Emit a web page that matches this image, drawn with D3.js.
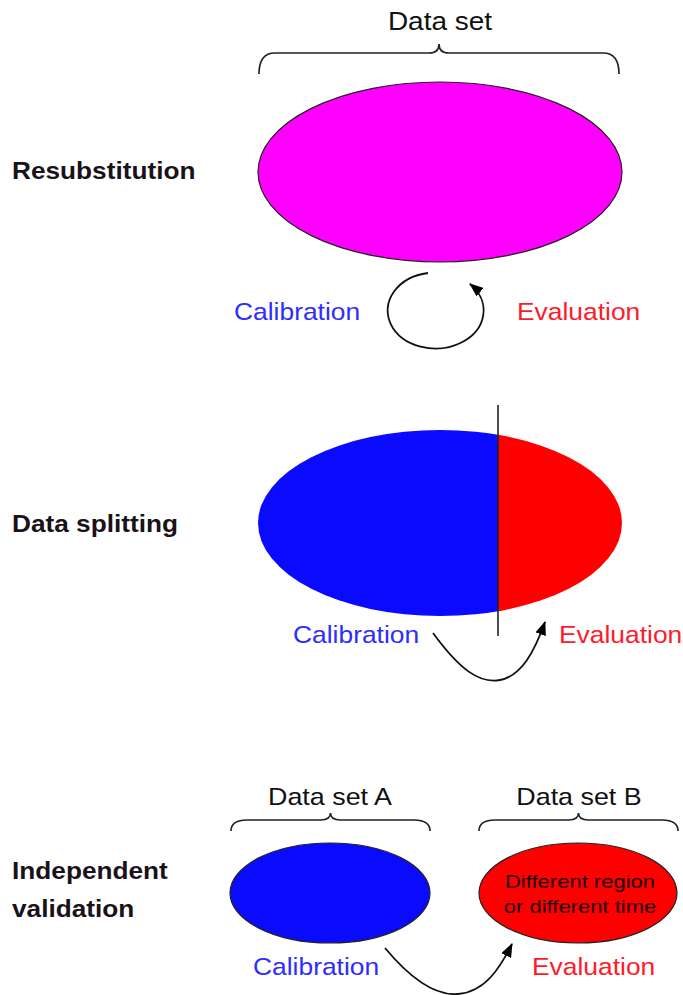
<!DOCTYPE html>
<html>
<head>
<meta charset="utf-8">
<script src="https://cdn.jsdelivr.net/npm/d3@7"></script>
<style>
  body { margin: 0; background: #fff; }
  svg { display: block; font-family: "Liberation Sans", Arial, sans-serif; }
</style>
</head>
<body>
<div id="chart"></div>
<script>
const w = 683;
const h = 995;

// content of the diagram
const methods = [['Resubstitution'], ['Data splitting'], ['Independent', 'validation']];
const setNames = ['Data set', 'Data set A', 'Data set B'];
const roles = ['Calibration', 'Evaluation'];
const innerLines = ['Different region', 'or different time'];

const blue = '#0a0aff', red = '#ff0000', magenta = '#ff00ff';
const blueText = '#2d2dff', redText = '#ff1a2a';

const svg = d3.select('#chart')
  .append('svg')
  .attr('width', w)
  .attr('height', h);

svg.append('defs').append('marker')
  .attr('id', 'head')
  .attr('viewBox', '0 0 14 11')
  .attr('refX', 13).attr('refY', 5.5)
  .attr('markerWidth', 14).attr('markerHeight', 11)
  .attr('markerUnits', 'userSpaceOnUse')
  .attr('orient', 'auto')
  .append('path')
  .attr('d', 'M0,0 L14,5.5 L0,11 Z')
  .attr('fill', '#000');

function label(txt, x, y, opts) {
  return svg.append('text')
    .attr('transform', `translate(${x},${y}) scale(${opts.stretch || 1.1},1)`)
    .attr('text-anchor', opts.anchor || 'start')
    .attr('font-size', opts.size)
    .attr('font-weight', opts.bold ? 'bold' : 'normal')
    .attr('fill', opts.color || '#111')
    .text(txt);
}

function brace(x1, x2, y, drop, peak) {
  const m = (x1 + x2) / 2, r = 16;
  const p = d3.path();
  p.moveTo(x1, y + drop);
  p.quadraticCurveTo(x1, y, x1 + r, y);
  p.lineTo(m - 10, y);
  p.quadraticCurveTo(m, y, m, y - peak);
  p.quadraticCurveTo(m, y, m + 10, y);
  p.lineTo(x2 - r, y);
  p.quadraticCurveTo(x2, y, x2, y + drop);
  svg.append('path').attr('d', p.toString())
    .attr('fill', 'none').attr('stroke', '#222').attr('stroke-width', 1.7);
}

// method labels on the left
const labelY = [179, 532];
const boldOpts = {size: 23, bold: true, color: '#1a121a', stretch: 1.14};
methods.forEach((lines, i) => {
  if (i < 2) label(lines[0], 12, labelY[i], boldOpts);
  else lines.forEach((l, j) => label(l, 12, 879 + j * 38, boldOpts));
});

// ---- Resubstitution ----
label(setNames[0], 440, 30, {size: 25, anchor: 'middle', stretch: 1.12});
brace(259, 619, 53, 21, 9);
svg.append('ellipse')
  .attr('cx', 440).attr('cy', 172).attr('rx', 182).attr('ry', 90)
  .attr('fill', magenta).attr('stroke', '#222').attr('stroke-width', 1.2);
label(roles[0], 234, 320, {size: 24, color: blueText});
label(roles[1], 517, 320, {size: 24, color: redText});
svg.append('path')
  .attr('d', 'M428,273 A48,38 0 1 0 470,284')
  .attr('fill', 'none').attr('stroke', '#111').attr('stroke-width', 1.8)
  .attr('marker-end', 'url(#head)');

// ---- Data splitting ----
const split = 498;
svg.append('clipPath').attr('id', 'leftHalf')
  .append('rect').attr('x', 0).attr('y', 0).attr('width', split).attr('height', h);
svg.append('clipPath').attr('id', 'rightHalf')
  .append('rect').attr('x', split).attr('y', 0).attr('width', w - split).attr('height', h);
svg.append('ellipse')
  .attr('cx', 440).attr('cy', 523).attr('rx', 182).attr('ry', 93)
  .attr('fill', blue).attr('clip-path', 'url(#leftHalf)');
svg.append('ellipse')
  .attr('cx', 440).attr('cy', 523).attr('rx', 182).attr('ry', 93)
  .attr('fill', red).attr('clip-path', 'url(#rightHalf)');
svg.append('line')
  .attr('x1', split).attr('x2', split).attr('y1', 405).attr('y2', 636)
  .attr('stroke', '#222').attr('stroke-width', 1.6);
label(roles[0], 293, 643, {size: 24, color: blueText});
label(roles[1], 559, 643, {size: 24, color: redText});
svg.append('path')
  .attr('d', 'M433,633 C460,670 480,684 500,680 C522,676 535,650 545,622')
  .attr('fill', 'none').attr('stroke', '#111').attr('stroke-width', 1.8)
  .attr('marker-end', 'url(#head)');

// ---- Independent validation ----
label(setNames[1], 330, 805, {size: 24, anchor: 'middle', stretch: 1.12});
label(setNames[2], 579, 805, {size: 24, anchor: 'middle', stretch: 1.12});
brace(231, 430, 820, 11, 7);
brace(479, 678, 820, 11, 7);
svg.append('ellipse')
  .attr('cx', 330).attr('cy', 893).attr('rx', 100).attr('ry', 50)
  .attr('fill', blue).attr('stroke', '#222').attr('stroke-width', 1.2);
svg.append('ellipse')
  .attr('cx', 578).attr('cy', 893).attr('rx', 99).attr('ry', 50)
  .attr('fill', red).attr('stroke', '#222').attr('stroke-width', 1.2);
innerLines.forEach((l, j) => label(l, 580, 888 + j * 25, {size: 19, anchor: 'middle', color: '#1a0000', stretch: 1.16}));
label(roles[0], 253, 975, {size: 24, color: blueText});
label(roles[1], 532, 975, {size: 24, color: redText});
svg.append('path')
  .attr('d', 'M385,948 C410,978 435,996 458,994 C485,992 500,968 512,944')
  .attr('fill', 'none').attr('stroke', '#111').attr('stroke-width', 1.8)
  .attr('marker-end', 'url(#head)');
</script>
</body>
</html>
